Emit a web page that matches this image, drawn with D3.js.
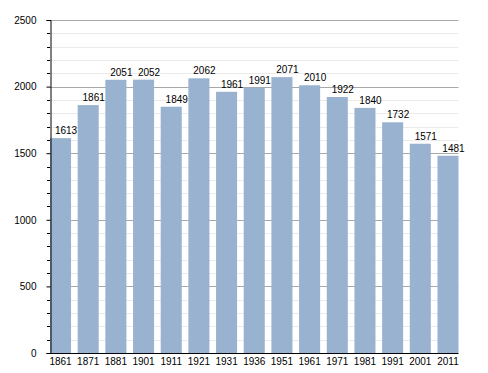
<!DOCTYPE html>
<html><head><meta charset="utf-8">
<script src="https://cdn.jsdelivr.net/npm/d3@7"></script>
<style>body{margin:0;background:#fff}svg{display:block}text{font-family:"Liberation Sans",Arial,sans-serif;font-size:10px;fill:#000}</style>
</head><body><svg id="c" width="488" height="373"></svg>
<script>
const years = ["1861","1871","1881","1901","1911","1921","1931","1936","1951","1961","1971","1981","1991","2001","2011"];
const population = [1613,1861,2051,2052,1849,2062,1961,1991,2071,2010,1922,1840,1732,1571,1481];
const yTicks = [0,500,1000,1500,2000,2500];

const svg = d3.select("#c");
const mLeft = 50, mRight = 458.5, mTop = 20, mBottom = 353;
const x = d3.scaleBand().domain(years).range([mLeft, mRight]).paddingInner(0.24).paddingOuter(0);
const y = d3.scaleLinear().domain([0,2500]).range([mBottom, mTop]);
const minor = d3.range(100,2500,100).filter(v=>v%500);

// minor grid
svg.append("g").selectAll("line").data(minor).join("line")
  .attr("x1",mLeft).attr("x2",mRight).attr("y1",d=>Math.round(y(d))+0.5).attr("y2",d=>Math.round(y(d))+0.5)
  .attr("stroke","#ebebeb").attr("stroke-width",1);
// major grid
svg.append("g").selectAll("line").data(yTicks.filter(v=>v>0)).join("line")
  .attr("x1",mLeft).attr("x2",mRight).attr("y1",d=>Math.round(y(d))+0.5).attr("y2",d=>Math.round(y(d))+0.5)
  .attr("stroke","#a8a8a8").attr("stroke-width",1);

// bars
svg.append("g").selectAll("rect").data(population).join("rect")
  .attr("x",(d,i)=>x(years[i])).attr("width",x.bandwidth())
  .attr("y",d=>y(d)).attr("height",d=>y(0)-y(d))
  .attr("fill","#98b2cf");

// value labels
svg.append("g").selectAll("text").data(population).join("text")
  .attr("x",(d,i)=>x(years[i])+x.bandwidth()/2+5.5).attr("y",d=>y(d)-4)
  .attr("text-anchor","middle").text(d=>d);

// y axis
const yAxis = d3.axisLeft(y).tickValues(yTicks).tickSize(4).tickPadding(10).tickFormat(d3.format("d"));
const gy = svg.append("g").attr("transform",`translate(${mLeft+0.5},0)`).call(yAxis);
gy.select(".domain").attr("stroke","#000");
gy.selectAll(".tick line").attr("stroke","#000");
gy.selectAll("text").style("font-size","10px").attr("font-family",null);
// minor ticks
svg.append("g").selectAll("line").data(minor).join("line")
  .attr("x1",mLeft-3).attr("x2",mLeft).attr("y1",d=>Math.round(y(d))+0.5).attr("y2",d=>Math.round(y(d))+0.5)
  .attr("stroke","#000");

// x axis
const xAxis = d3.axisBottom(x).tickSize(0).tickPadding(4);
const gx = svg.append("g").attr("transform",`translate(0,${mBottom+0.5})`).call(xAxis);
gx.select(".domain").attr("stroke","#000").attr("d",`M${mLeft},0H${mRight}`);
gx.selectAll("text").style("font-size","10px").attr("font-family",null);
</script></body></html>
